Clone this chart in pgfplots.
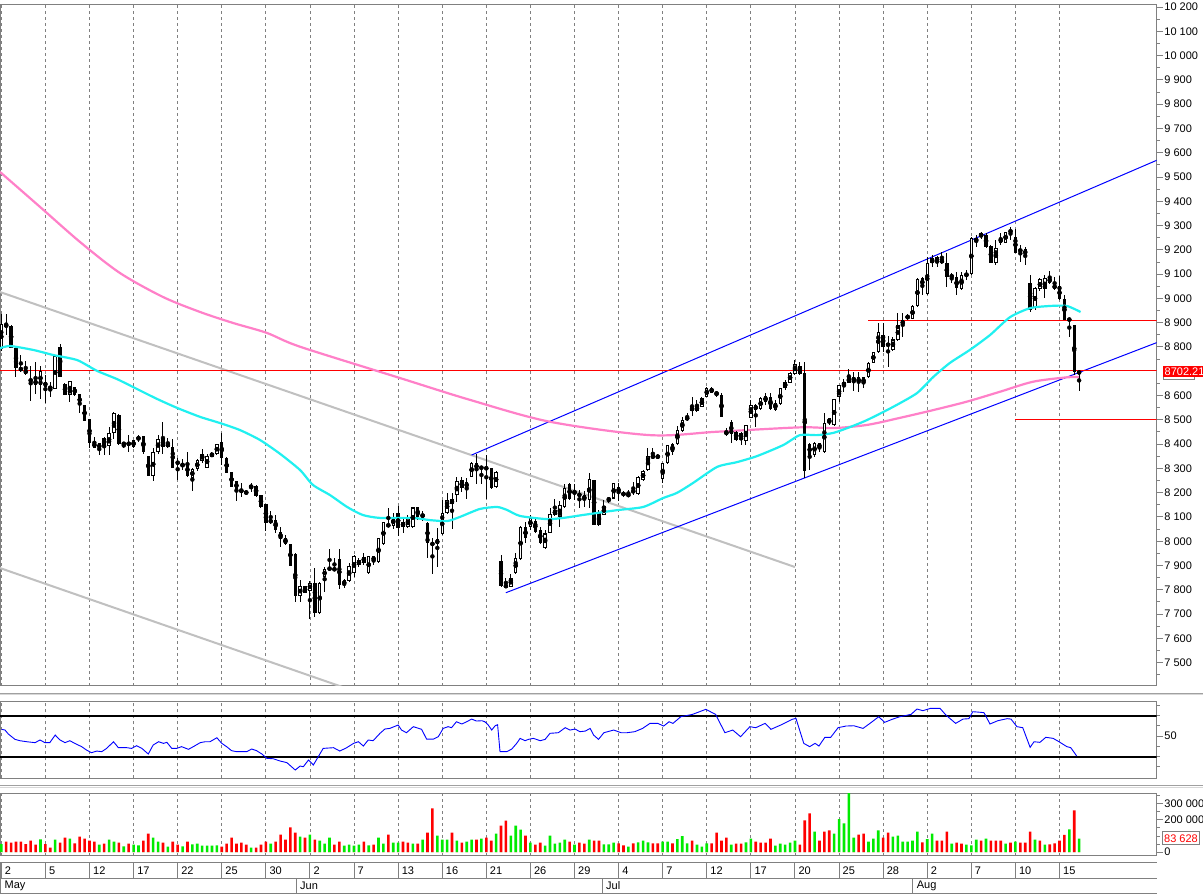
\documentclass[border=0pt]{standalone}
\usepackage{fontspec}
\setmainfont{Liberation Sans}
\usepackage{pgfplots}
\usepackage{pgfplotstable}
\pgfplotsset{compat=1.18}

\definecolor{gridgray}{RGB}{128,128,128}
\definecolor{framegray}{RGB}{128,128,128}
\definecolor{maCyan}{RGB}{32,240,240}
\definecolor{maPink}{RGB}{255,128,200}
\definecolor{chanGray}{RGB}{192,192,192}
\definecolor{volGreen}{RGB}{0,235,0}
\definecolor{volRed}{RGB}{255,0,0}
\definecolor{sepDark}{RGB}{160,160,160}
\definecolor{sepLight}{RGB}{215,215,215}

\newcommand\lbl{\fontsize{11}{13}\selectfont}

% i open high low close
\pgfplotstableread{
i O H L C
0 8790 8936 8785 8895
1 8892 8936 8849 8884
2 8886 8891 8794 8797
3 8797 8800 8678 8712
4 8713 8767 8698 8705
5 8709 8742 8685 8687
6 8668 8722 8579 8657
7 8664 8738 8606 8645
8 8643 8722 8584 8701
9 8657 8685 8568 8637
10 8639 8657 8593 8626
11 8628 8765 8626 8763
12 8800 8814 8675 8678
13 8647 8650 8602 8604
14 8604 8660 8575 8658
15 8634 8636 8600 8604
16 8605 8607 8527 8560
17 8560 8562 8494 8496
18 8503 8505 8383 8406
19 8407 8428 8383 8385
20 8381 8405 8354 8403
21 8426 8428 8354 8392
22 8394 8469 8354 8444
23 8444 8531 8420 8529
24 8520 8522 8398 8400
25 8403 8406 8383 8400
26 8404 8437 8366 8399
27 8387 8419 8385 8417
28 8417 8437 8410 8431
29 8433 8435 8358 8369
30 8351 8353 8268 8270
31 8270 8383 8249 8366
32 8369 8437 8359 8420
33 8425 8491 8359 8387
34 8389 8424 8383 8403
35 8389 8420 8301 8303
36 8326 8341 8252 8321
37 8304 8337 8293 8322
38 8322 8369 8266 8268
39 8262 8300 8208 8296
40 8296 8337 8291 8334
41 8332 8378 8321 8359
42 8303 8359 8300 8351
43 8348 8369 8345 8362
44 8359 8402 8357 8400
45 8409 8447 8314 8343
46 8343 8345 8280 8282
47 8284 8286 8223 8225
48 8248 8250 8167 8211
49 8211 8238 8181 8203
50 8207 8212 8190 8194
51 8218 8241 8204 8232
52 8229 8231 8184 8186
53 8190 8192 8138 8140
54 8152 8154 8043 8076
55 8074 8126 8073 8091
56 8087 8108 8035 8046
57 8039 8060 7975 8009
58 8012 8024 7984 7988
59 7988 7990 7897 7899
60 7947 7950 7751 7774
61 7774 7840 7751 7815
62 7815 7817 7786 7788
63 7796 7837 7678 7829
64 7829 7888 7689 7703
65 7703 7833 7700 7829
66 7851 7895 7792 7887
67 7890 7968 7878 7884
68 7888 7929 7880 7881
69 7927 7968 7802 7819
70 7819 7843 7806 7840
71 7837 7911 7833 7898
72 7870 7943 7854 7939
73 7902 7929 7895 7921
74 7936 7950 7902 7912
75 7868 7940 7866 7938
76 7938 7939 7902 7918
77 7916 8012 7909 8012
78 7987 8080 7985 8080
79 8071 8135 8057 8060
80 8062 8117 8049 8098
81 8117 8145 8023 8053
82 8080 8101 8035 8057
83 8057 8108 8055 8094
84 8057 8142 8055 8139
85 8139 8142 8087 8101
86 8111 8126 8084 8101
87 8076 8078 7932 7991
88 7991 8012 7863 7987
89 7988 8053 7892 8008
90 8028 8170 8025 8115
91 8115 8200 8112 8170
92 8172 8200 8051 8152
93 8190 8266 8163 8249
94 8252 8266 8204 8218
95 8218 8259 8176 8245
96 8266 8325 8263 8323
97 8321 8359 8234 8297
98 8296 8310 8236 8310
99 8302 8355 8172 8299
100 8300 8302 8216 8218
101 8222 8290 8220 8286
102 7918 7943 7813 7815
103 7812 7847 7810 7818
104 7812 7867 7810 7850
105 7870 7953 7867 7929
106 7925 8062 7922 8060
107 8057 8080 7991 8012
108 8057 8108 8046 8094
109 8084 8101 8035 8039
110 8046 8057 7987 7994
111 7971 8046 7966 8032
112 8035 8135 8032 8111
113 8110 8172 8105 8128
114 8101 8167 8060 8149
115 8142 8236 8139 8218
116 8236 8238 8170 8172
117 8204 8236 8170 8197
118 8200 8211 8135 8183
119 8170 8208 8142 8190
120 8170 8282 8135 8255
121 8252 8254 8065 8067
122 8115 8128 8063 8067
123 8108 8170 8108 8145
124 8176 8183 8156 8170
125 8176 8241 8172 8241
126 8222 8238 8167 8200
127 8204 8206 8183 8186
128 8186 8211 8183 8194
129 8197 8245 8190 8214
130 8194 8268 8190 8266
131 8252 8293 8248 8290
132 8293 8386 8290 8351
133 8355 8383 8337 8341
134 8341 8358 8340 8355
135 8255 8323 8241 8323
136 8323 8396 8320 8396
137 8400 8403 8355 8369
138 8400 8474 8396 8458
139 8455 8513 8451 8499
140 8499 8527 8496 8513
141 8551 8595 8516 8538
142 8538 8582 8534 8557
143 8554 8595 8551 8588
144 8595 8636 8594 8630
145 8630 8636 8609 8612
146 8602 8618 8595 8616
147 8602 8609 8510 8510
148 8455 8465 8433 8437
149 8492 8499 8403 8440
150 8451 8455 8414 8418
151 8447 8451 8396 8417
152 8413 8479 8396 8479
153 8506 8582 8506 8561
154 8561 8565 8472 8540
155 8543 8595 8540 8591
156 8575 8609 8561 8598
157 8595 8609 8540 8543
158 8540 8582 8538 8571
159 8565 8630 8561 8630
160 8630 8664 8623 8657
161 8653 8698 8650 8694
162 8689 8746 8685 8730
163 8722 8740 8685 8689
164 8691 8740 8260 8290
165 8399 8403 8293 8355
166 8355 8410 8348 8406
167 8403 8403 8369 8383
168 8369 8530 8365 8488
169 8506 8506 8479 8486
170 8479 8584 8475 8584
171 8593 8643 8575 8643
172 8639 8667 8616 8657
173 8653 8708 8650 8675
174 8657 8698 8620 8678
175 8678 8698 8616 8650
176 8675 8678 8630 8648
177 8675 8740 8671 8733
178 8733 8781 8733 8781
179 8781 8900 8777 8863
180 8849 8900 8781 8801
181 8815 8845 8719 8804
182 8787 8842 8785 8831
183 8829 8938 8826 8891
184 8891 8941 8842 8911
185 8914 8938 8911 8932
186 8914 8973 8914 8969
187 8969 9083 8966 9079
188 9083 9090 9014 9051
189 9018 9169 9014 9145
190 9145 9179 9128 9165
191 9151 9175 9128 9169
192 9161 9193 9142 9145
193 9145 9188 9048 9087
194 9087 9103 9062 9096
195 9087 9110 9014 9042
196 9037 9110 9035 9096
197 9096 9117 9076 9100
198 9101 9252 9097 9248
199 9248 9261 9213 9234
200 9252 9275 9243 9271
201 9261 9268 9206 9213
202 9216 9220 9145 9145
203 9145 9241 9138 9206
204 9248 9268 9220 9230
205 9230 9275 9227 9275
206 9282 9293 9241 9271
207 9254 9285 9188 9188
208 9193 9220 9151 9202
209 9202 9213 9138 9179
210 9065 9096 8945 8952
211 8959 9048 8952 9042
212 9037 9083 9032 9079
213 9037 9097 9000 9083
214 9085 9113 9059 9065
215 9055 9090 9035 9041
216 9051 9092 8993 8996
217 8996 9014 8911 8911
218 8908 8918 8842 8918
219 8890 8890 8685 8698
220 8688 8705 8620 8702.21
}\candles

\pgfplotstableread{
i p
-0.27 8795
1.8 8804
6.5 8788
10.6 8767
15.5 8746
19.5 8702
23.6 8668
27.7 8627
31.8 8586
35.9 8549
40.6 8512
44.6 8487
48.7 8458
52.8 8417
56.9 8360
61.0 8293
63.6 8232
67.1 8190
70.6 8141
73.8 8108
77.3 8096
84.0 8096
87.5 8087
91.0 8083
93.6 8100
97.7 8133
101.2 8141
103.2 8129
105.9 8104
111.4 8091
114.7 8096
118.7 8108
125.7 8128
131.0 8141
135.1 8178
137.9 8199
141.2 8240
146.1 8306
150.2 8326
154.3 8351
159.6 8396
163.0 8437
166.5 8437
169.8 8446
173.2 8470
176.7 8499
182.0 8553
186.9 8610
190.2 8676
193.6 8734
197.7 8788
201.8 8849
205.9 8923
210.0 8960
214.1 8969
217.5 8969
220.3 8944
}\maFast

\pgfplotstableread{
i p
-0.27 9521
7.9 9377
16.1 9232
24.2 9105
33.0 9006
40.6 8944
47.3 8899
54.2 8858
61.0 8801
81.4 8672
95.7 8582
112.0 8492
132.4 8437
146.1 8451
163.0 8469
169.8 8466
176.7 8479
183.4 8508
190.2 8540
197.1 8575
203.9 8616
210.6 8657
217.5 8675
220.2 8676
}\maSlow

\pgfplotstableread{
i r
0.07 56.7
0.76 56.0
1.44 52.1
2.8 46.9
3.8 45.6
5.2 44.6
6.9 43.7
7.9 46.3
8.9 43.7
9.9 43.7
11.0 51.1
12.0 46.3
13.0 43.7
14.0 45.6
15.0 43.0
16.4 39.8
17.4 36.5
18.4 33.9
19.5 35.5
20.5 34.9
21.5 38.1
22.9 44.6
23.9 38.8
25.6 38.8
26.6 38.1
27.6 40.7
28.7 38.1
30.0 32.6
31.0 41.4
32.1 44.6
33.1 43.0
33.8 44.0
34.8 38.1
35.8 38.1
36.8 39.8
38.2 37.2
39.2 39.8
40.6 43.7
41.6 44.6
42.6 44.6
44.0 48.5
45.0 43.0
46.0 39.8
47.0 35.9
48.0 34.9
50.1 34.9
51.1 37.5
52.1 35.9
53.2 32.6
54.2 28.4
55.5 28.0
56.9 25.8
58.3 24.2
60.0 17.0
61.0 20.9
61.65 20.2
62.7 26.8
63.7 21.9
64.7 30.0
65.7 38.1
67.8 38.8
69.1 35.5
70.5 38.8
71.9 43.0
72.9 44.6
73.9 40.4
74.9 46.3
75.9 45.6
77.3 52.8
78.3 57.0
79.3 57.6
81.0 60.9
81.7 56.0
82.7 53.4
84.1 59.3
85.8 56.7
86.8 47.2
88.2 47.2
89.2 49.5
90.2 57.6
91.2 59.3
91.9 58.3
92.9 64.1
94.0 61.9
95.0 64.1
96.0 66.7
97.0 64.8
98.1 65.1
98.7 64.1
99.4 60.9
100.1 56.0
100.8 60.2
101.3 61.2
101.8 34.9
103.2 34.9
104.2 37.5
105.2 43.0
105.9 47.9
106.9 45.6
107.6 46.9
108.6 47.9
110.0 45.6
111.0 46.9
112.0 52.8
113.7 53.4
115.1 58.3
116.1 56.0
117.1 57.0
118.1 54.4
119.2 55.0
120.2 57.6
120.9 51.1
121.9 46.9
123.0 53.4
125.0 56.0
126.5 53.4
127.7 53.4
129.3 54.4
130.9 57.6
132.4 62.5
134.0 62.5
135.2 59.9
136.3 64.1
137.1 62.5
138.7 69.0
141.1 71.3
143.8 76.2
145.8 71.3
147.7 53.4
149.3 56.0
150.9 49.5
152.8 59.3
154.0 58.3
155.9 62.5
157.1 56.7
159.1 60.9
161.4 66.4
162.2 67.4
163.8 43.0
165.0 39.8
166.1 43.0
166.9 40.4
168.1 48.9
169.3 48.9
170.8 58.3
172.4 59.9
174.0 60.2
175.9 57.6
177.5 63.2
179.1 69.0
180.3 63.5
181.8 66.4
183.4 69.0
185.7 71.3
186.9 76.5
188.1 74.9
189.7 77.2
191.6 77.2
192.8 70.7
194.8 62.5
196.3 66.7
197.5 67.1
198.3 73.9
199.9 73.3
200.6 72.9
201.8 61.9
203.4 65.1
205.3 67.1
206.1 66.7
207.3 59.3
208.5 58.3
210.0 39.1
210.8 44.6
212.0 44.0
213.2 48.9
214.7 47.9
215.9 44.6
217.5 39.8
218.3 38.8
219.5 30.7
}\rsi

% i volume green(1)/red(0)
\pgfplotstableread{
i v c
0 50000 1
1 64600 0
2 58300 0
3 64600 0
4 64600 0
5 50000 0
6 70800 0
7 45800 0
8 79200 1
9 50000 0
10 27100 0
11 77100 1
12 58300 0
13 89600 0
14 83300 1
15 54200 0
16 95800 0
17 83300 0
18 70800 0
19 64600 0
20 45800 1
21 52100 0
22 77100 1
23 64600 1
24 58300 0
25 35400 1
26 52100 0
27 45800 1
28 41700 1
29 70800 0
30 114600 0
31 89600 1
32 64600 1
33 58300 0
34 33300 1
35 64600 0
36 45800 0
37 35400 1
38 64600 0
39 47900 1
40 52100 1
41 39600 1
42 39600 1
43 39600 1
44 41700 1
45 33300 0
46 52100 0
47 89600 0
48 52100 0
49 58300 0
50 45800 0
51 27100 1
52 27100 0
53 45800 0
54 64600 0
55 52100 1
56 64600 0
57 108300 0
58 77100 0
59 154200 0
60 120800 0
61 95800 1
62 89600 0
63 108300 1
64 77100 0
65 70800 1
66 52100 1
67 89600 1
68 45800 0
69 64600 0
70 39600 1
71 45800 1
72 39600 1
73 45800 1
74 64600 0
75 41700 1
76 45800 0
77 89600 1
78 52100 1
79 108300 0
80 58300 1
81 58300 1
82 64600 0
83 58300 0
84 52100 1
85 52100 0
86 77100 1
87 120800 0
88 272900 0
89 102100 1
90 77100 1
91 77100 1
92 120800 0
93 70800 1
94 58300 0
95 64600 1
96 77100 1
97 77100 0
98 83300 1
99 89600 0
100 70800 0
101 114600 1
102 164600 0
103 195800 0
104 102100 1
105 164600 1
106 139600 1
107 102100 0
108 58300 1
109 45800 0
110 58300 0
111 39600 1
112 102100 1
113 52100 1
114 58300 1
115 77100 1
116 64600 0
117 45800 1
118 58300 0
119 52100 0
120 77100 1
121 70800 0
122 70800 0
123 48300 1
124 48300 1
125 58800 1
126 54600 0
127 42000 0
128 33600 1
129 54600 0
130 60900 1
131 71400 1
132 60900 1
133 54600 0
134 54600 0
135 65100 1
136 65100 1
137 54600 0
138 79800 1
139 98700 1
140 54600 1
141 71400 0
142 46200 1
143 33600 1
144 54600 1
145 54600 0
146 121800 0
147 71400 0
148 90300 0
149 46200 1
150 52500 0
151 52500 0
152 60900 1
153 84000 1
154 65100 0
155 58800 0
156 58800 0
157 84000 0
158 39900 1
159 52500 1
160 46200 1
161 58800 1
162 71400 1
163 46200 0
164 197400 0
165 241500 0
166 128100 1
167 71400 0
168 128100 0
169 134400 0
170 115500 1
171 205800 1
172 178500 1
173 369600 1
174 90300 1
175 109200 0
176 115500 0
177 65100 1
178 84000 1
179 134400 1
180 90300 0
181 121800 0
182 96600 1
183 102900 1
184 65100 1
185 65100 1
186 71400 1
187 128100 1
188 60900 0
189 79800 1
190 115500 1
191 71400 0
192 71400 0
193 128100 0
194 52500 1
195 58800 0
196 52500 0
197 46200 1
198 42000 1
199 77700 1
200 71400 0
201 84000 1
202 71400 0
203 71400 0
204 71400 0
205 52500 1
206 58800 0
207 65100 1
208 58800 0
209 58800 0
210 128100 0
211 77700 1
212 71400 0
213 46200 1
214 48300 0
215 54600 0
216 71400 0
217 107100 0
218 140700 1
219 260400 0
220 83628 1
}\vol

\pgfplotsset{
  panel/.style={
    scale only axis, width=1156.7pt, anchor=south west,
    xmin=-0.265, xmax=235.84,
    axis line style={draw=framegray, line width=1pt},
    xtick={0,9,...,216}, xticklabels={}, xmajorticks=false, xmajorgrids=true,
    major grid style={draw=gridgray, line width=0.8pt, dash pattern=on 3pt off 3pt},
    ytick pos=right, yticklabel pos=right, tick align=outside,
    major tick length=6.5pt, minor tick length=3pt,
    every tick/.style={draw=framegray, line width=1pt},
    tick label style={font=\lbl, text=black},
    yticklabel style={inner sep=1pt},
    scaled y ticks=false,
    /pgf/number format/1000 sep={\ },
    /pgf/number format/fixed,
    /pgf/number format/precision=0,
    /pgf/number format/assume math mode=true,
  },
  errbar/.style={only marks, mark=none, forget plot,
    error bars/.cd, y dir=both, y explicit, error mark=none},
}

\begin{document}
\begin{tikzpicture}
\fill[white] (0pt,0pt) rectangle (1203pt,895pt);
\useasboundingbox (0pt,0pt) rectangle (1203pt,895pt);

% ---------- price panel ----------
\begin{axis}[panel, at={(0pt,209.3pt)}, height=680.7pt,
  ymin=7405, ymax=10208.6,
  ytick={7500,7600,...,8600,8800,8900,...,10200},
  minor ytick={7450,7550,...,10150}]
  % channels
  \addplot[chanGray, line width=2pt] coordinates {(-0.27,9026.5) (162.0,7893.7)};
  \addplot[chanGray, line width=2pt] coordinates {(-0.27,7889.6) (75,7362)};
  \addplot[blue, line width=1pt] coordinates {(96.0,8355) (235.84,9569)};
  \addplot[blue, line width=1pt] coordinates {(103.0,7788) (235.84,8818)};
  % horizontal levels
  \addplot[red, line width=1.2pt] coordinates {(-0.265,8702.21) (235.84,8702.21)};
  \addplot[red, line width=1.2pt] coordinates {(177.0,8908) (235.84,8908)};
  \addplot[red, line width=1.3pt] coordinates {(206.9,8500) (235.84,8500)};
  % moving averages
  \addplot[maPink, line width=2.2pt, smooth, tension=0.5] table[x=i,y=p] {\maSlow};
  % candles: wicks, bodies, hollow interiors
  \addplot[errbar, error bar style={draw=black, line width=1pt, solid}]
    table[x=i, y expr={(\thisrow{H}+\thisrow{L})/2}, y error expr={(\thisrow{H}-\thisrow{L})/2}] {\candles};
  \addplot[errbar, error bar style={draw=black, line width=3.4pt, solid}]
    table[x=i, y expr={(\thisrow{O}+\thisrow{C})/2}, y error expr={max(abs(\thisrow{C}-\thisrow{O})/2,2.5)}] {\candles};
  \addplot[errbar, error bar style={draw=white, line width=1.4pt, solid}]
    table[x=i, y expr={(\thisrow{O}+\thisrow{C})/2}, y error expr={\thisrow{C}>\thisrow{O} ? max((\thisrow{C}-\thisrow{O})/2-4.2,0) : 0}] {\candles};
  \addplot[maCyan, line width=2.2pt, smooth, tension=0.4] table[x=i,y=p] {\maFast};
\end{axis}

% ---------- RSI panel ----------
\begin{axis}[panel, at={(0pt,116.7pt)}, height=76.6pt,
  ymin=8.93, ymax=83.66,
  ytick={50}, minor ytick={20,30,40,60,70,80}]
  \addplot[black, line width=2pt] coordinates {(-0.265,70) (235.84,70)};
  \addplot[black, line width=2pt] coordinates {(-0.265,30) (235.84,30)};
  \addplot[blue, line width=0.9pt] table[x=i,y=r] {\rsi};
\end{axis}

% ---------- volume panel ----------
\begin{axis}[panel, at={(0pt,39.3pt)}, height=62.4pt,
  ymin=-23125, ymax=366875,
  ytick={0,200000,300000}, minor ytick={50000,100000,150000,250000,350000}]
  \addplot[ybar, bar width=2.6pt, bar shift=0pt, fill=volGreen, draw=none]
    table[x=i, y expr={\thisrow{c}*\thisrow{v}}] {\vol};
  \addplot[ybar, bar width=2.6pt, bar shift=0pt, fill=volRed, draw=none]
    table[x=i, y expr={(1-\thisrow{c})*\thisrow{v}}] {\vol};
\end{axis}

% panel separators
\draw[sepDark, line width=1pt] (0pt,201.7pt) -- (1203pt,201.7pt);
\draw[sepLight, line width=1pt] (0pt,200.2pt) -- (1203pt,200.2pt);
\draw[sepDark, line width=1pt] (0pt,109pt) -- (1203pt,109pt);
\draw[sepLight, line width=1pt] (0pt,107.6pt) -- (1203pt,107.6pt);

% last price and last volume boxes
\draw[framegray, line width=1pt] (1163.3pt,515pt) rectangle (1194pt,528pt);
\fill[red] (1162.7pt,517.7pt) rectangle (1203pt,529pt);
\node[anchor=west, inner sep=0pt, text=white] at (1164.5pt,523.3pt) {\lbl 8702.21};
\draw[framegray, fill=white, line width=1pt] (1162.7pt,50pt) rectangle (1199.3pt,63.3pt);
\node[inner sep=0pt, text=red] at (1181pt,56.6pt) {\lbl 83\ 628};

% date rows
\draw[framegray, line width=1pt] (0pt,32.3pt) -- (1156.7pt,32.3pt);
\draw[framegray, line width=1pt] (0pt,16.7pt) -- (1156.7pt,16.7pt);
\draw[framegray, line width=1pt] (0pt,1.7pt) -- (1156.7pt,1.7pt);
\draw[framegray, line width=1pt] (0.5pt,1.7pt) -- (0.5pt,32.3pt);
\foreach \k/\t in {0/2,1/5,2/12,3/17,4/22,5/25,6/30,7/2,8/7,9/13,10/16,11/21,12/26,
                   13/29,14/4,15/7,16/12,17/17,18/20,19/25,20/28,21/2,22/7,23/10,24/15}{
  \pgfmathsetmacro\xx{1.3+44.09*\k}
  \draw[framegray, line width=1pt] (\xx pt,16.7pt) -- (\xx pt,32.3pt);
  \node[anchor=west, inner sep=0pt] at (\xx pt+3.5pt,24.5pt) {\lbl \t};
}
\foreach \xx/\t in {0.5/May,296/Jun,602/Jul,912.7/Aug}{
  \draw[framegray, line width=1pt] (\xx pt,1.7pt) -- (\xx pt,16.7pt);
  \node[anchor=west, inner sep=0pt] at (\xx pt+4pt,9.2pt) {\lbl \t};
}
\end{tikzpicture}
\end{document}
